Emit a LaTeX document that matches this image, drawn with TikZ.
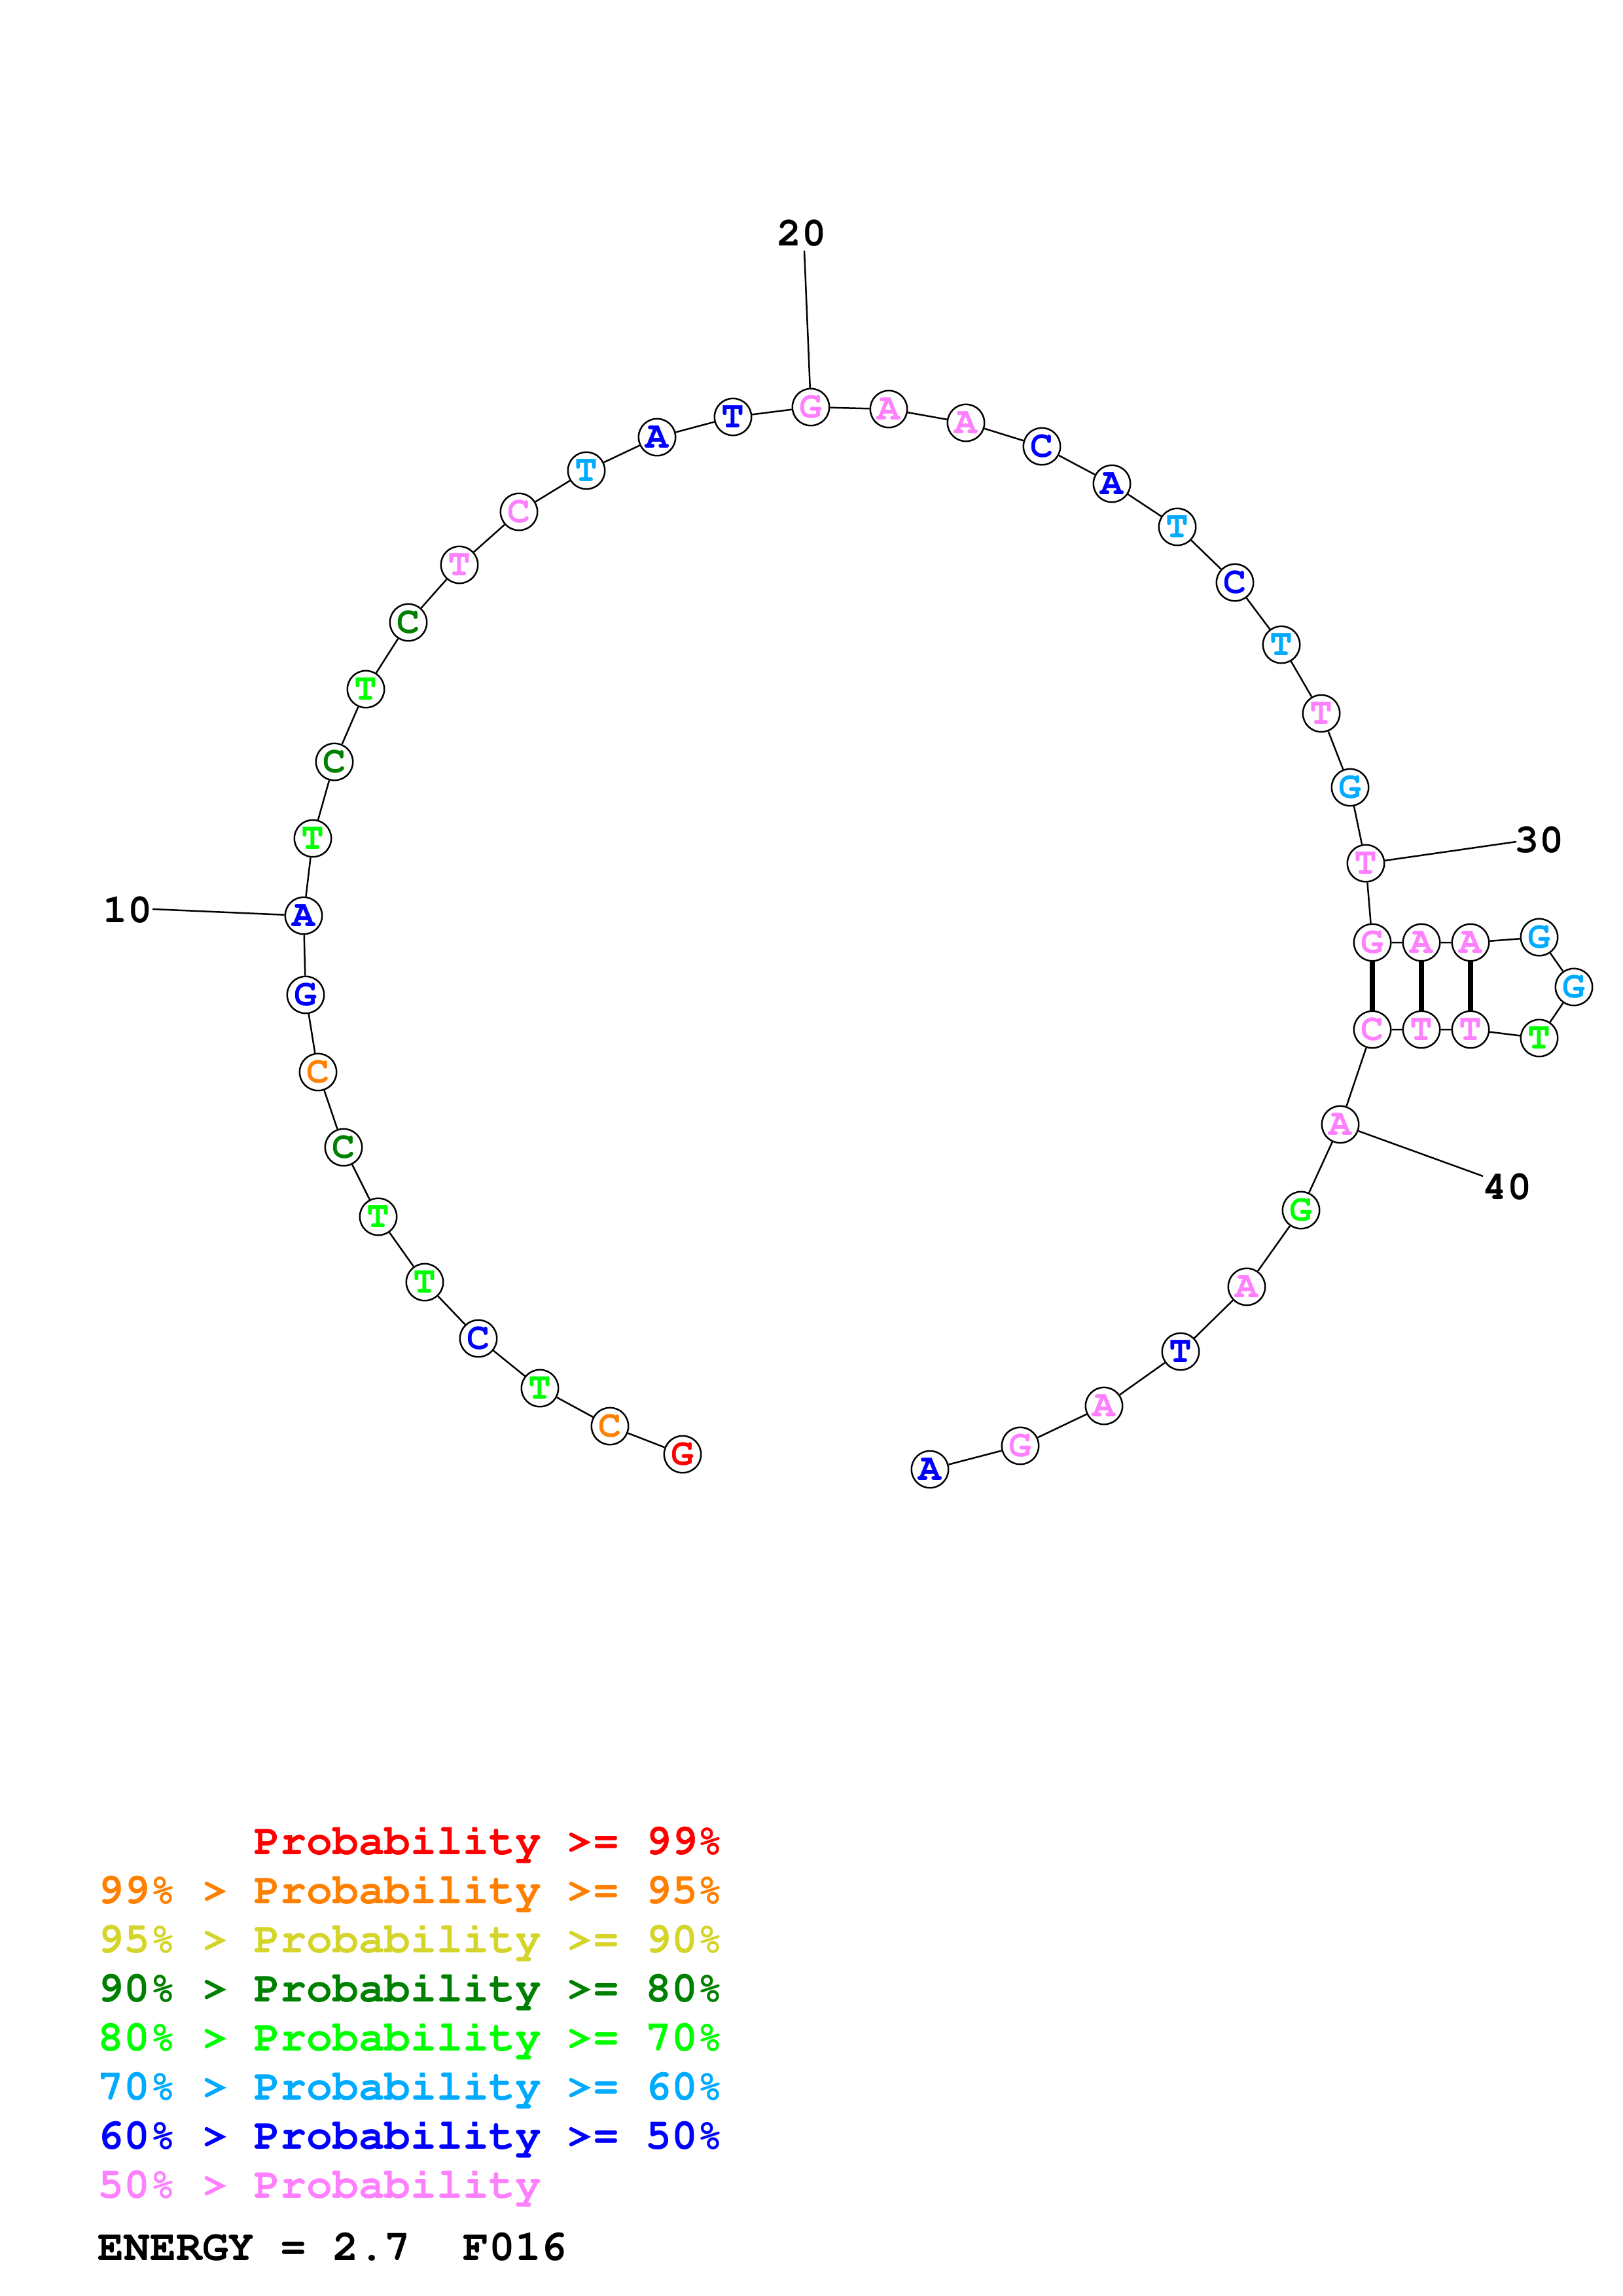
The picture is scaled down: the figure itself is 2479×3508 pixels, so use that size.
\documentclass[tikz,border=0pt]{standalone}
\usepackage[T1]{fontenc}
\usepackage{tikz}
\usetikzlibrary{positioning}

\newcommand\courierbf{\fontencoding{T1}\fontfamily{pcr}\fontseries{b}\selectfont}

\definecolor{pr99}{RGB}{255,0,0}
\definecolor{pr95}{RGB}{255,128,0}
\definecolor{pr90}{RGB}{212,212,42}
\definecolor{pr80}{RGB}{0,128,0}
\definecolor{pr70}{RGB}{0,255,0}
\definecolor{pr60}{RGB}{0,170,255}
\definecolor{pr50}{RGB}{0,0,255}
\definecolor{prlow}{RGB}{255,128,255}

\begin{document}
\begin{tikzpicture}[x=0.08471mm, y=-0.08471mm,
  base/.style={circle, draw, line width=0.6pt, fill=white, minimum size=13.6pt,
    inner sep=0pt, font=\courierbf\fontsize{14}{14}\selectfont},
  backbone/.style={line width=0.6pt},
  pairbar/.style={line width=1.8pt},
  numtag/.style={inner sep=0pt, font=\courierbf\fontsize{15}{15}\selectfont},
  legend/.style={anchor=base west, inner sep=0pt, font=\courierbf\fontsize{16}{18}\selectfont}]
  \useasboundingbox (0,0) rectangle (2479,3508);

  % Bases 1-10
  \node[base, text=pr99] (n1) at (1043,2222) {G};
  \node[base, text=pr95] (n2) at (932,2179) {C};
  \node[base, text=pr70] (n3) at (825,2121) {T};
  \node[base, text=pr50] (n4) at (731,2045) {C};
  \node[base, text=pr70] (n5) at (649,1959) {T};
  \node[base, text=pr70] (n6) at (578,1859) {T};
  \node[base, text=pr80] (n7) at (525,1753) {C};
  \node[base, text=pr95] (n8) at (486,1638) {C};
  \node[base, text=pr50] (n9) at (467,1520) {G};
  \node[base, text=pr50] (n10) at (464,1399) {A};

  % Bases 11-20
  \node[base, text=pr70] (n11) at (478,1281) {T};
  \node[base, text=pr80] (n12) at (511,1164) {C};
  \node[base, text=pr70] (n13) at (559,1053) {T};
  \node[base, text=pr80] (n14) at (624,951) {C};
  \node[base, text=prlow] (n15) at (702,863) {T};
  \node[base, text=prlow] (n16) at (793,782) {C};
  \node[base, text=pr60] (n17) at (896,719) {T};
  \node[base, text=pr50] (n18) at (1004,668) {A};
  \node[base, text=pr50] (n19) at (1120,637) {T};
  \node[base, text=prlow] (n20) at (1239,622) {G};

  % Bases 21-30
  \node[base, text=prlow] (n21) at (1358,625) {A};
  \node[base, text=prlow] (n22) at (1476,646) {A};
  \node[base, text=pr50] (n23) at (1592,682) {C};
  \node[base, text=pr50] (n24) at (1699,739) {A};
  \node[base, text=pr60] (n25) at (1799,805) {T};
  \node[base, text=pr50] (n26) at (1887,890) {C};
  \node[base, text=pr60] (n27) at (1958,985) {T};
  \node[base, text=prlow] (n28) at (2019,1090) {T};
  \node[base, text=pr60] (n29) at (2063,1203) {G};
  \node[base, text=prlow] (n30) at (2087,1319) {T};

  % Hairpin 31-39
  \node[base, text=prlow] (n31) at (2097,1440) {G};
  \node[base, text=prlow] (n32) at (2172,1440) {A};
  \node[base, text=prlow] (n33) at (2247,1440) {A};
  \node[base, text=pr60] (n34) at (2352,1432) {G};
  \node[base, text=pr60] (n35) at (2405,1508) {G};
  \node[base, text=pr70] (n36) at (2352,1586) {T};
  \node[base, text=prlow] (n37) at (2247,1573) {T};
  \node[base, text=prlow] (n38) at (2172,1573) {T};
  \node[base, text=prlow] (n39) at (2097,1573) {C};

  % Bases 40-46
  \node[base, text=prlow] (n40) at (2048,1718) {A};
  \node[base, text=pr70] (n41) at (1988,1849) {G};
  \node[base, text=prlow] (n42) at (1905,1966) {A};
  \node[base, text=pr50] (n43) at (1804,2065) {T};
  \node[base, text=prlow] (n44) at (1687,2148) {A};
  \node[base, text=prlow] (n45) at (1559,2209) {G};
  \node[base, text=pr50] (n46) at (1421,2245) {A};

  % Backbone
  \draw[backbone] (n1) -- (n2) -- (n3) -- (n4) -- (n5) -- (n6) -- (n7) -- (n8)
    -- (n9) -- (n10) -- (n11) -- (n12) -- (n13) -- (n14) -- (n15) -- (n16)
    -- (n17) -- (n18) -- (n19) -- (n20) -- (n21) -- (n22) -- (n23) -- (n24)
    -- (n25) -- (n26) -- (n27) -- (n28) -- (n29) -- (n30) -- (n31) -- (n32)
    -- (n33) -- (n34) -- (n35) -- (n36) -- (n37) -- (n38) -- (n39) -- (n40)
    -- (n41) -- (n42) -- (n43) -- (n44) -- (n45) -- (n46);

  % Base pairs
  \draw[pairbar] (n31) -- (n39);
  \draw[pairbar] (n32) -- (n38);
  \draw[pairbar] (n33) -- (n37);

  % Position ticks
  \coordinate (e10) at (233,1389);
  \coordinate (e20) at (1229,383);
  \coordinate (e30) at (2317,1286);
  \coordinate (e40) at (2266,1797);
  \draw[backbone] (n10) -- (e10);
  \draw[backbone] (n20) -- (e20);
  \draw[backbone] (n30) -- (e30);
  \draw[backbone] (n40) -- (e40);
  \node[numtag] (t10) at (195,1390) {10};
  \node[numtag] (t20) at (1225,356) {20};
  \node[numtag] (t30) at (2352,1283) {30};
  \node[numtag] (t40) at (2303,1813) {40};

  % Legend
  \node[legend, text=pr99] (k99) at (149,2833) {\phantom{99\% > }Probability >= 99\%};
  \node[legend, text=pr95] (k95) at (149,2908) {99\% > Probability >= 95\%};
  \node[legend, text=pr90] (k90) at (149,2983) {95\% > Probability >= 90\%};
  \node[legend, text=pr80] (k80) at (149,3058) {90\% > Probability >= 80\%};
  \node[legend, text=pr70] (k70) at (149,3133) {80\% > Probability >= 70\%};
  \node[legend, text=pr60] (k60) at (149,3208) {70\% > Probability >= 60\%};
  \node[legend, text=pr50] (k50) at (149,3283) {60\% > Probability >= 50\%};
  \node[legend, text=prlow] (klow) at (149,3358) {50\% > Probability};
  \node[legend] (energy) at (149,3453) {ENERGY = 2.7~~F016};
\end{tikzpicture}
\end{document}
